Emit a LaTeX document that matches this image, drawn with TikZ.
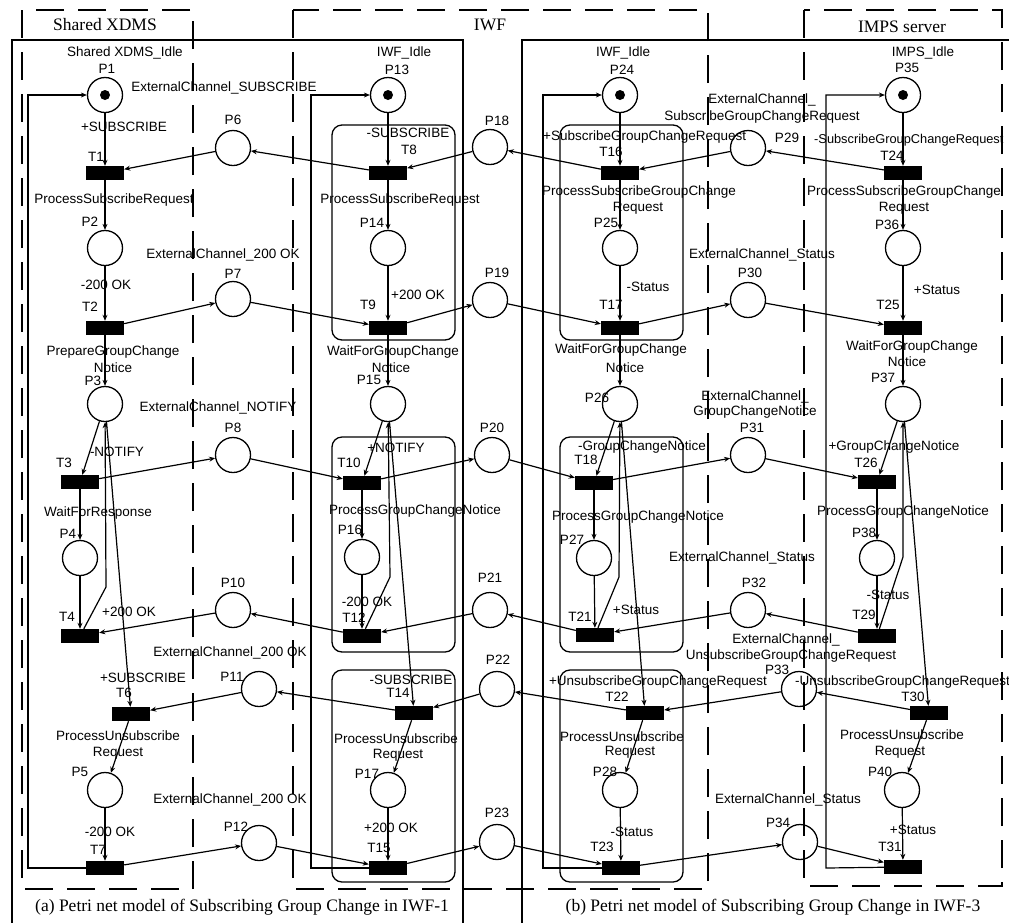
\documentclass[tikz,border=0pt]{standalone}
\usepackage{fontspec}
\setmainfont{Liberation Sans}
\newfontfamily\seriffont{Liberation Serif}
\usetikzlibrary{arrows.meta}
\newcommand{\mylab}[3]{\node[lbl] (#1) at (#2) {#3};}
\begin{document}
\begin{tikzpicture}[x=1pt,y=-1pt,
 place/.style={circle,draw,line width=1.3pt,minimum size=35pt,inner sep=0pt},
 trans/.style={rectangle,fill=black,minimum width=38pt,minimum height=14pt,inner sep=0pt},
 token/.style={circle,fill=black,minimum size=10pt,inner sep=0pt},
 arc/.style={line width=1.2pt,-{Stealth[length=6pt,width=5pt]}},
 lbl/.style={font=\fontsize{13.5}{14}\selectfont,inner sep=0pt},
 head/.style={font=\seriffont\fontsize{17.5}{18}\selectfont,inner sep=0pt},
 panel/.style={line width=1.5pt},
 dbox/.style={line width=1.8pt,dash pattern=on 28pt off 14pt},
 sub/.style={line width=1.3pt,rounded corners=10pt}]
\useasboundingbox (0,0) rectangle (1009,922);
\fill[white] (0,0) rectangle (1009,922);
% panels
\draw[panel] (12,925) -- (12,40) -- (463,40) -- (463,925);
\draw[panel] (522,925) -- (522,40) -- (1009,40);
% dashed boxes
\draw[dbox] (22,10) rectangle (193,889);
\draw[dbox] (293,10) rectangle (708,889);
\draw[dbox] (804,10) rectangle (1002,886);
% sub boxes
\draw[sub] (332,125) rectangle (455,340);
\draw[sub] (332,437) rectangle (455,652);
\draw[sub] (332,670) rectangle (455,882);
\draw[sub] (560,125) rectangle (683,340);
\draw[sub] (560,437) rectangle (683,652);
\draw[sub] (560,670) rectangle (683,882);
% headings
\node[head] (h1) at (105,25) {Shared XDMS};
\node[head] (h2) at (490,25) {IWF};
\node[head] (h3) at (902,27) {IMPS server};
\node[head] (ca) at (242,907) {(a) Petri net model of Subscribing Group Change in IWF-1};
\node[head] (cb) at (773,907) {(b) Petri net model of Subscribing Group Change in IWF-3};
% places
\foreach \n/\x/\y in {1/105/95,2/105/248,3/105/404,4/80/558,5/105/790,
 6/233/148,7/233/299,8/233/455,10/233/610,11/259/689,12/259/843,
 13/388/95,14/388/248,15/388/404,16/362/557,17/388/790,
 18/490/147,19/490/300,20/492/455,21/490/610,22/497/689,23/497/842,
 24/620/95,25/620/248,26/620/404,27/594/558,28/620/790,
 29/748/148,30/748/300,31/748/455,32/748/610,33/799/689,34/800/842,
 35/903/95,36/903/248,37/903/404,38/877/558,40/902/790}
 {\node[place] (p\n) at (\x,\y) {};}
\node[token] (k1) at (p1) {};
\node[token] (k13) at (p13) {};
\node[token] (k24) at (p24) {};
\node[token] (k35) at (p35) {};
% transitions
\foreach \n/\x/\y in {1/105/173,2/105/328,3/80/482,4/80/636,6/131/714,7/105/868,
 8/388/173,9/388/328,10/362/483,12/362/636,14/414/713,15/388/868,
 16/620/173,17/620/328,18/594/483,21/595/635,22/645/713,23/621/868,
 24/903/173,25/903/328,26/877/482,29/877/636,30/929/713,31/903/867}
 {\node[trans] (t\n) at (\x,\y) {};}
% bend and loop coordinates
\coordinate (b4) at (106,587);
\coordinate (b12) at (390,577);
\coordinate (b21) at (619,577);
\coordinate (b29) at (903,557);
\coordinate (c1a) at (28,868); \coordinate (c1b) at (28,95);
\coordinate (c2a) at (311,868); \coordinate (c2b) at (311,95);
\coordinate (c3a) at (543,868); \coordinate (c3b) at (543,95);
\coordinate (c4a) at (826,868); \coordinate (c4b) at (826,95);
% XDMS arcs
\draw[arc] (p1) -- (t1);
\draw[arc] (t1) -- (p2);
\draw[arc] (p2) -- (t2);
\draw[arc] (t2) -- (p3);
\draw[arc] (p3) -- (t3);
\draw[arc] (t3) -- (p4);
\draw[arc] (p4) -- (t4);
\draw[arc] (t4) -- (b4) -- (p3);
\draw[arc] (p3) -- (t6);
\draw[arc] (t6) -- (p5);
\draw[arc] (p5) -- (t7);
\draw[arc] (t7) -- (c1a) -- (c1b) -- (p1);
% IWF-1 arcs
\draw[arc] (p13) -- (t8);
\draw[arc] (t8) -- (p14);
\draw[arc] (p14) -- (t9);
\draw[arc] (t9) -- (p15);
\draw[arc] (p15) -- (t10);
\draw[arc] (t10) -- (p16);
\draw[arc] (p16) -- (t12);
\draw[arc] (t12) -- (b12) -- (p15);
\draw[arc] (p15) -- (t14);
\draw[arc] (t14) -- (p17);
\draw[arc] (p17) -- (t15);
\draw[arc] (t15) -- (c2a) -- (c2b) -- (p13);
% IWF-3 arcs
\draw[arc] (p24) -- (t16);
\draw[arc] (t16) -- (p25);
\draw[arc] (p25) -- (t17);
\draw[arc] (t17) -- (p26);
\draw[arc] (p26) -- (t18);
\draw[arc] (t18) -- (p27);
\draw[arc] (p27) -- (t21);
\draw[arc] (t21) -- (b21) -- (p26);
\draw[arc] (p26) -- (t22);
\draw[arc] (t22) -- (p28);
\draw[arc] (p28) -- (t23);
\draw[arc] (t23) -- (c3a) -- (c3b) -- (p24);
% IMPS arcs
\draw[arc] (p35) -- (t24);
\draw[arc] (t24) -- (p36);
\draw[arc] (p36) -- (t25);
\draw[arc] (t25) -- (p37);
\draw[arc] (p37) -- (t26);
\draw[arc] (t26) -- (p38);
\draw[arc] (p38) -- (t29);
\draw[arc] (t29) -- (b29) -- (p37);
\draw[arc] (p37) -- (t30);
\draw[arc] (t30) -- (p40);
\draw[arc] (p40) -- (t31);
\draw[arc] (t31) -- (c4a) -- (c4b) -- (p35);
% channel arcs
\draw[arc] (t8) -- (p6);  \draw[arc] (p6) -- (t1);
\draw[arc] (t2) -- (p7);  \draw[arc] (p7) -- (t9);
\draw[arc] (t3) -- (p8);  \draw[arc] (p8) -- (t10);
\draw[arc] (t12) -- (p10); \draw[arc] (p10) -- (t4);
\draw[arc] (t14) -- (p11); \draw[arc] (p11) -- (t6);
\draw[arc] (t7) -- (p12); \draw[arc] (p12) -- (t15);
\draw[arc] (t16) -- (p18); \draw[arc] (p18) -- (t8);
\draw[arc] (t9) -- (p19); \draw[arc] (p19) -- (t17);
\draw[arc] (t10) -- (p20); \draw[arc] (p20) -- (t18);
\draw[arc] (t21) -- (p21); \draw[arc] (p21) -- (t12);
\draw[arc] (t22) -- (p22); \draw[arc] (p22) -- (t14);
\draw[arc] (t15) -- (p23); \draw[arc] (p23) -- (t23);
\draw[arc] (t24) -- (p29); \draw[arc] (p29) -- (t16);
\draw[arc] (t17) -- (p30); \draw[arc] (p30) -- (t25);
\draw[arc] (t18) -- (p31); \draw[arc] (p31) -- (t26);
\draw[arc] (t29) -- (p32); \draw[arc] (p32) -- (t21);
\draw[arc] (t30) -- (p33); \draw[arc] (p33) -- (t22);
\draw[arc] (t23) -- (p34); \draw[arc] (p34) -- (t31);
% labels XDMS
\mylab{la1}{125,53}{Shared XDMS\_Idle}
\mylab{la2}{107,69}{P1}
\mylab{la3}{224,88}{ExternalChannel\_SUBSCRIBE}
\mylab{la4}{124,127}{+SUBSCRIBE}
\mylab{la5}{233,120}{P6}
\mylab{la6}{96,157}{T1}
\mylab{la7}{114,200}{ProcessSubscribeRequest}
\mylab{la8}{90,222}{P2}
\mylab{la9}{223,255}{ExternalChannel\_200 OK}
\mylab{la10}{233,274}{P7}
\mylab{la11}{106,285}{-200 OK}
\mylab{la12}{90,307}{T2}
\mylab{la13}{113,352}{PrepareGroupChange}
\mylab{la14}{113,368}{Notice}
\mylab{la15}{93,381}{P3}
\mylab{la16}{218,408}{ExternalChannel\_NOTIFY}
\mylab{la17}{233,428}{P8}
\mylab{la18}{117,452}{-NOTIFY}
\mylab{la19}{64,463}{T3}
\mylab{la20}{98,513}{WaitForResponse}
\mylab{la21}{68,534}{P4}
\mylab{la22}{233,583}{P10}
\mylab{la23}{129,612}{+200 OK}
\mylab{la24}{67,617}{T4}
\mylab{la25}{230,653}{ExternalChannel\_200 OK}
\mylab{la26}{143,678}{+SUBSCRIBE}
\mylab{la27}{232,677}{P11}
\mylab{la28}{124,693}{T6}
\mylab{la29}{118,736}{ProcessUnsubscribe}
\mylab{la30}{118,753}{Request}
\mylab{la31}{80,772}{P5}
\mylab{la32}{230,800}{ExternalChannel\_200 OK}
\mylab{la33}{236,827}{P12}
\mylab{la34}{110,832}{-200 OK}
\mylab{la35}{98,850}{T7}
% labels IWF-1
\mylab{lb1}{404,53}{IWF\_Idle}
\mylab{lb2}{397,70}{P13}
\mylab{lb3}{408,133}{-SUBSCRIBE}
\mylab{lb4}{409,150}{T8}
\mylab{lb5}{497,121}{P18}
\mylab{lb6}{400,200}{ProcessSubscribeRequest}
\mylab{lb7}{372,223}{P14}
\mylab{lb8}{497,273}{P19}
\mylab{lb9}{418,295}{+200 OK}
\mylab{lb10}{368,305}{T9}
\mylab{lb11}{393,352}{WaitForGroupChange}
\mylab{lb12}{391,368}{Notice}
\mylab{lb13}{369,380}{P15}
\mylab{lb14}{492,428}{P20}
\mylab{lb15}{396,448}{+NOTIFY}
\mylab{lb16}{349,463}{T10}
\mylab{lb17}{415,511}{ProcessGroupChangeNotice}
\mylab{lb18}{350,530}{P16}
\mylab{lb19}{490,578}{P21}
\mylab{lb20}{367,602}{-200 OK}
\mylab{lb21}{354,618}{T12}
\mylab{lb22}{498,660}{P22}
\mylab{lb23}{411,680}{-SUBSCRIBE}
\mylab{lb24}{398,693}{T14}
\mylab{lb25}{396,739}{ProcessUnsubscribe}
\mylab{lb26}{398,755}{Request}
\mylab{lb27}{367,774}{P17}
\mylab{lb28}{497,813}{P23}
\mylab{lb29}{391,828}{+200 OK}
\mylab{lb30}{379,848}{T15}
% labels IWF-3
\mylab{lc1}{623,53}{IWF\_Idle}
\mylab{lc2}{622,70}{P24}
\node[lbl,anchor=west] (lc3) at (543,137) {+SubscribeGroupChangeRequest};
\mylab{lc4}{611,152}{T16}
\mylab{lc5}{762,100}{ExternalChannel\_}
\mylab{lc6}{762,117}{SubscribeGroupChangeRequest}
\mylab{lc7}{787,138}{P29}
\mylab{lc8}{639,192}{ProcessSubscribeGroupChange}
\mylab{lc9}{638,208}{Request}
\mylab{lc10}{606,223}{P25}
\mylab{lc11}{762,255}{ExternalChannel\_Status}
\mylab{lc12}{750,273}{P30}
\mylab{lc13}{648,287}{-Status}
\mylab{lc14}{611,305}{T17}
\mylab{lc15}{621,350}{WaitForGroupChange}
\mylab{lc16}{625,368}{Notice}
\mylab{lc17}{597,398}{P26}
\mylab{lc18}{755,397}{ExternalChannel\_}
\mylab{lc19}{755,412}{GroupChangeNotice}
\mylab{lc20}{752,428}{P31}
\mylab{lc21}{642,447}{-GroupChangeNotice}
\mylab{lc22}{586,460}{T18}
\mylab{lc23}{638,517}{ProcessGroupChangeNotice}
\mylab{lc24}{572,540}{P27}
\mylab{lc25}{742,558}{ExternalChannel\_Status}
\mylab{lc26}{754,583}{P32}
\mylab{lc27}{636,610}{+Status}
\mylab{lc28}{580,617}{T21}
\mylab{lc29}{786,640}{ExternalChannel\_}
\mylab{lc30}{791,656}{UnsubscribeGroupChangeRequest}
\mylab{lc31}{658,682}{+UnsubscribeGroupChangeRequest}
\mylab{lc32}{777,670}{P33}
\mylab{lc33}{617,697}{T22}
\mylab{lc34}{622,737}{ProcessUnsubscribe}
\mylab{lc35}{630,752}{Request}
\mylab{lc36}{605,772}{P28}
\mylab{lc37}{788,800}{ExternalChannel\_Status}
\mylab{lc38}{778,823}{P34}
\mylab{lc39}{632,832}{-Status}
\mylab{lc40}{602,847}{T23}
% labels IMPS
\mylab{ld1}{923,53}{IMPS\_Idle}
\mylab{ld2}{907,68}{P35}
\node[lbl,anchor=west,font=\fontsize{12.8}{13}\selectfont] (ld3) at (814,140) {-SubscribeGroupChangeRequest};
\mylab{ld4}{892,156}{T24}
\mylab{ld5}{904,192}{ProcessSubscribeGroupChange}
\mylab{ld6}{904,208}{Request}
\mylab{ld7}{887,225}{P36}
\mylab{ld8}{937,290}{+Status}
\mylab{ld9}{888,305}{T25}
\mylab{ld10}{912,347}{WaitForGroupChange}
\mylab{ld11}{907,362}{Notice}
\mylab{ld12}{883,378}{P37}
\mylab{ld13}{894,447}{+GroupChangeNotice}
\mylab{ld14}{866,463}{T26}
\mylab{ld15}{903,512}{ProcessGroupChangeNotice}
\mylab{ld16}{864,533}{P38}
\mylab{ld17}{888,595}{-Status}
\mylab{ld18}{864,615}{T29}
\node[lbl,anchor=west] (ld19) at (795,682) {-UnsubscribeGroupChangeRequest};
\mylab{ld20}{913,697}{T30}
\mylab{ld21}{902,735}{ProcessUnsubscribe}
\mylab{ld22}{900,752}{Request}
\mylab{ld23}{880,772}{P40}
\mylab{ld24}{913,830}{+Status}
\mylab{ld25}{890,847}{T31}
\end{tikzpicture}
\end{document}
